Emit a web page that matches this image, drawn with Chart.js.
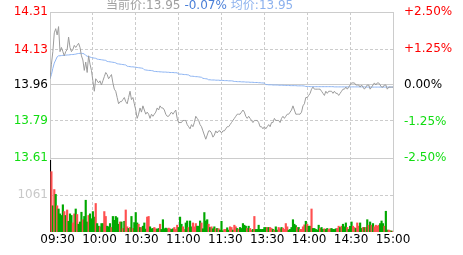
<!DOCTYPE html>
<html lang="zh">
<head>
<meta charset="UTF-8">
<title>分时走势</title>
<script src="https://cdn.jsdelivr.net/npm/chart.js"></script>
<style>
  body { margin: 0; background: #fff; }
  #wrap { position: relative; width: 463px; height: 255px; }
  #head {
    position: absolute; left: 106px; top: -1px;
    font: 12px "DejaVu Sans", "Noto Sans CJK SC", sans-serif;
    line-height: 13px; white-space: nowrap;
  }
  #head .cur { color: #a0a0a0; }
  #head .chg { color: #4a7fd8; margin-left: 4px; }
  #head .avg { color: #8db2ee; margin-left: 4px; }
</style>
</head>
<body>
<div id="wrap">
  <canvas id="chart" width="463" height="255"></canvas>
  <div id="head"><span class="cur" id="cur"></span><span class="chg" id="chg"></span><span class="avg" id="avg"></span></div>
</div>
<script>
// previous close and axis labels
const prevClose = 13.96;
const priceTicks = [14.31, 14.13, 13.96, 13.79, 13.61];
const pctTicks = [2.5, 1.25, 0, -1.25, -2.5];
const volTicks = [1061];
const timeLabels = ['09:30', '10:00', '10:30', '11:00', '11:30', '13:30', '14:00', '14:30', '15:00'];

// one value per minute, 09:30 .. 11:30 + 13:01 .. 15:00
const prices = [
  13.99, 14.06, 14.12, 14.21, 14.23, 14.20, 14.24, 14.12, 14.14, 14.12,
  14.10, 14.12, 14.13, 14.19, 14.14, 14.12, 14.13, 14.15, 14.14, 14.15,
  14.16, 14.14, 14.10, 14.08, 14.03, 14.07, 14.02, 14.10, 14.06, 14.03,
  13.98, 13.93, 13.99, 13.98, 13.97, 13.98, 13.96, 13.98, 14.00, 14.02,
  14.01, 13.99, 14.00, 14.01, 13.97, 13.94, 13.93, 13.90, 13.87, 13.88,
  13.88, 13.89, 13.90, 13.88, 13.87, 13.90, 13.93, 13.89, 13.90, 13.87,
  13.84, 13.80, 13.82, 13.85, 13.83, 13.86, 13.84, 13.82, 13.83, 13.82,
  13.80, 13.82, 13.81, 13.82, 13.83, 13.85, 13.84, 13.86, 13.85, 13.85,
  13.84, 13.82, 13.81, 13.81, 13.82, 13.83, 13.82, 13.83, 13.84, 13.80,
  13.78, 13.78, 13.78, 13.79, 13.79, 13.79, 13.77, 13.76, 13.75, 13.77,
  13.76, 13.78, 13.81, 13.80, 13.79, 13.77, 13.76, 13.74, 13.72, 13.70,
  13.72, 13.74, 13.74, 13.73, 13.71, 13.72, 13.74, 13.73, 13.74, 13.74,
  13.73, 13.74, 13.74, 13.75, 13.76, 13.76, 13.77, 13.78, 13.79, 13.80,
  13.81, 13.82, 13.82, 13.82, 13.83, 13.84, 13.83, 13.81, 13.80, 13.81,
  13.80, 13.79, 13.78, 13.79, 13.79, 13.79, 13.78, 13.76, 13.76, 13.75,
  13.76, 13.75, 13.76, 13.77, 13.76, 13.78, 13.78, 13.80, 13.79, 13.79,
  13.79, 13.78, 13.80, 13.81, 13.80, 13.81, 13.82, 13.82, 13.83, 13.84,
  13.86, 13.84, 13.82, 13.82, 13.82, 13.82, 13.83, 13.86, 13.87, 13.90,
  13.90, 13.91, 13.92, 13.94, 13.95, 13.94, 13.94, 13.94, 13.94, 13.94,
  13.93, 13.92, 13.91, 13.93, 13.92, 13.93, 13.93, 13.93, 13.92, 13.93,
  13.92, 13.92, 13.91, 13.92, 13.93, 13.94, 13.94, 13.95, 13.94, 13.95,
  13.96, 13.97, 13.97, 13.97, 13.96, 13.96, 13.96, 13.95, 13.96, 13.95,
  13.94, 13.95, 13.96, 13.96, 13.94, 13.95, 13.96, 13.97, 13.96, 13.97,
  13.97, 13.96, 13.95, 13.95, 13.96, 13.96, 13.94, 13.95, 13.95, 13.95, 13.95
];

const avgPrices = [
  13.990, 14.010, 14.040, 14.065, 14.080, 14.095, 14.100,
  14.100, 14.101, 14.102, 14.102, 14.103, 14.104, 14.104, 14.105, 14.106, 14.106, 14.107, 14.108,
  14.110, 14.111, 14.112, 14.112, 14.111, 14.109,
  14.102, 14.098, 14.096, 14.094, 14.092, 14.090, 14.089, 14.088,
  14.084, 14.083, 14.082, 14.081, 14.080, 14.079, 14.078,
  14.073, 14.072, 14.071, 14.070, 14.069, 14.068, 14.066,
  14.062, 14.061, 14.060, 14.059, 14.058, 14.057, 14.056,
  14.050, 14.049, 14.048, 14.047, 14.047, 14.046,
  14.045, 14.044, 14.043, 14.042, 14.041, 14.040,
  14.033, 14.032, 14.031, 14.030, 14.030, 14.029, 14.028,
  14.025, 14.025, 14.024, 14.024, 14.023, 14.023, 14.022, 14.022, 14.022, 14.021, 14.021, 14.020, 14.020, 14.020, 14.019, 14.019, 14.018,
  14.013, 14.012, 14.012, 14.011, 14.010, 14.010, 14.009, 14.008,
  14.003, 14.002, 14.002, 14.001, 14.000, 14.000, 13.999, 13.998, 13.997,
  13.992, 13.991, 13.990, 13.989,
  13.985, 13.985, 13.984, 13.984, 13.984, 13.983, 13.983, 13.983, 13.982, 13.982, 13.982, 13.981, 13.981, 13.981, 13.980, 13.980, 13.980, 13.979,
  13.977, 13.977, 13.976, 13.976, 13.976, 13.975, 13.975, 13.975, 13.974, 13.974, 13.974, 13.973, 13.973, 13.973, 13.972, 13.972, 13.972, 13.971, 13.971, 13.970, 13.970, 13.969,
  13.962, 13.962, 13.961, 13.961, 13.961, 13.960, 13.960, 13.960, 13.960, 13.959, 13.959, 13.959, 13.959, 13.958, 13.958, 13.958, 13.958, 13.957, 13.957, 13.957, 13.957, 13.957, 13.956, 13.956, 13.956, 13.956, 13.956, 13.955,
  13.953, 13.953, 13.953, 13.952, 13.952, 13.952, 13.952, 13.952, 13.952, 13.952,
  13.952, 13.952, 13.952, 13.952, 13.952, 13.952, 13.952, 13.952, 13.952, 13.952,
  13.951, 13.951, 13.951, 13.951, 13.951, 13.951, 13.951, 13.951, 13.951, 13.951,
  13.951, 13.951, 13.951, 13.951, 13.951, 13.951, 13.951, 13.951, 13.951, 13.951,
  13.951, 13.951, 13.950, 13.950, 13.950, 13.950, 13.950, 13.950, 13.950, 13.950,
  13.950, 13.950, 13.950, 13.950, 13.950, 13.950, 13.950, 13.950, 13.950, 13.950,
  13.950, 13.950
];

const volumes = [
  2055, 1730, 752, 1218, 1078, 752, 660, 520, 474, 781,
  586, 474, 632, 307, 520, 474, 260, 520, 660, 502,
  223, 288, 567, 353, 446, 911, 288, 474, 520, 381,
  586, 428, 818, 242, 167, 149, 242, 242, 586, 446,
  167, 149, 242, 130, 446, 335, 446, 409, 223, 288,
  288, 102, 307, 632, 149, 102, 130, 446, 102, 270,
  558, 260, 223, 130, 130, 167, 260, 84, 428, 446,
  149, 93, 102, 130, 93, 84, 102, 223, 74, 353,
  93, 112, 93, 112, 93, 74, 93, 130, 74, 195,
  130, 428, 223, 149, 74, 260, 316, 130, 316, 149,
  260, 149, 242, 167, 167, 316, 260, 93, 558, 316,
  353, 223, 130, 149, 93, 149, 93, 102, 93, 56,
  307,
  37, 74, 74, 121, 56, 149, 130, 56, 195, 149,
  102, 74, 130, 102, 242, 195, 167, 102, 167, 102,
  56, 74, 446, 74, 74, 195, 74, 74, 74, 130,
  130, 130, 130, 130, 102, 74, 56, 149, 56, 130,
  93, 130, 112, 74, 242, 149, 56, 74, 130, 353,
  223, 186, 130, 130, 74, 74, 149, 205, 307, 223,
  167, 167, 660, 102, 102, 74, 56, 195, 102, 130,
  74, 93, 74, 102, 74, 93, 102, 74, 74, 93,
  102, 167, 130, 167, 223, 149, 260, 130, 74, 167,
  288, 167, 130, 102, 260, 167, 260, 102, 130, 130,
  130, 353, 195, 288, 195, 242, 149, 195, 167, 195,
  242, 316, 242, 167, 595, 56, 56, 37, 30, 20
];

// 1 = price up that minute, -1 = down, 0 = opening
const moves = [
  0, 1, -1, 1, -1, 1, -1, -1, -1, -1,
  1, -1, 1, -1, -1, -1, 1, 1, -1, 1,
  -1, -1, -1, 1, -1, -1, -1, 1, -1, -1,
  -1, -1, 1, -1, -1, 1, -1, -1, 1, 1,
  -1, -1, -1, 1, -1, -1, -1, -1, -1, 1,
  -1, 1, -1, 1, 1, -1, 1, -1, 1, -1,
  -1, -1, 1, -1, 1, -1, -1, -1, 1, 1,
  -1, -1, -1, 1, 1, -1, -1, 1, -1, -1,
  -1, -1, -1, 1, 1, -1, -1, 1, 1, 1,
  -1, -1, -1, 1, 1, -1, -1, 1, -1, -1,
  1, 1, 1, -1, -1, -1, 1, -1, -1, -1,
  -1, 1, -1, 1, -1, -1, 1, -1, 1, -1,
  -1,
  -1, 1, 1, -1, -1, 1, 1, -1, 1, 1,
  -1, 1, -1, -1, -1, -1, -1, 1, -1, 1,
  1, -1, 1, -1, -1, -1, -1, -1, -1, -1,
  -1, 1, -1, 1, 1, -1, 1, -1, -1, 1,
  1, -1, 1, 1, 1, 1, -1, -1, -1, -1,
  -1, -1, 1, -1, 1, 1, 1, 1, -1, 1,
  -1, -1, 1, -1, -1, -1, -1, -1, 1, -1,
  -1, 1, -1, -1, 1, 1, -1, -1, -1, -1,
  1, 1, -1, 1, -1, -1, -1, 1, -1, -1,
  -1, 1, 1, -1, 1, 1, -1, -1, 1, -1,
  1, -1, 1, -1, 1, -1, 1, 1, 1, 1,
  -1, -1, -1, 1, -1, -1, 1, 1, -1, 1
];

const UP = '#ff5050';
const DOWN = '#00a800';
const GRID = '#cccccc';
const RED_TXT = '#ff0000';
const GREEN_TXT = '#11dd11';
const font = { family: 'DejaVu Sans', size: 12 };
const lastMin = 240;
const volMax = volTicks[0] * 2;

// header line
const last = prices[prices.length - 1];
document.getElementById('cur').textContent = '当前价:' + last.toFixed(2);
document.getElementById('chg').textContent = ((last - prevClose) / prevClose * 100).toFixed(2) + '%';
document.getElementById('avg').textContent = '均价:' + avgPrices[avgPrices.length - 1].toFixed(2);

const fixTicks = values => scale => { scale.ticks = values.map(v => ({ value: v })); };
const fixWidth = w => scale => { scale.width = w; };
const fixHeight = h => scale => { scale.height = h; };
function signColor(ctx, mid) {
  const v = ctx.tick ? ctx.tick.value : mid;
  if (v > mid) return RED_TXT;
  if (v < mid) return GREEN_TXT;
  return '#000';
}
// dashed grid line except at the given values
function gridDash(solidValues) {
  return ctx => (ctx.tick && !solidValues.includes(ctx.tick.value)) ? [3, 2] : [];
}
const points = arr => arr.map((v, i) => ({ x: i, y: v }));

new Chart(document.getElementById('chart'), {
  type: 'line',
  data: {
    datasets: [
      {
        label: '价格', data: points(prices), xAxisID: 'x', yAxisID: 'y',
        borderColor: '#9c9c9c', borderWidth: 1, pointRadius: 0, tension: 0
      },
      {
        label: '均价', data: points(avgPrices), xAxisID: 'x', yAxisID: 'y',
        borderColor: '#8db4f2', borderWidth: 1, pointRadius: 0, tension: 0
      },
      {
        type: 'bar', label: '成交量', data: points(volumes), xAxisID: 'x', yAxisID: 'v',
        backgroundColor: moves.map(m => m > 0 ? UP : (m < 0 ? DOWN : '#000')),
        barThickness: 1.5
      }
    ]
  },
  options: {
    responsive: false,
    animation: false,
    devicePixelRatio: 1,
    layout: { padding: { top: 12 } },
    plugins: { legend: { display: false }, tooltip: { enabled: false } },
    scales: {
      // minute axis: data and the half-hour grid
      x: {
        type: 'linear', position: 'bottom', min: 0, max: lastMin, offset: false,
        afterBuildTicks: fixTicks(timeLabels.map((_, i) => i * 30)),
        ticks: { display: false },
        grid: { display: true, drawOnChartArea: true, color: GRID, lineWidth: 1, drawTicks: false, offset: false },
        border: { display: false, dash: gridDash([0, lastMin]) },
        afterFit: fixHeight(0)
      },
      // time labels
      xl: {
        type: 'linear', position: 'bottom', min: -0.18, max: timeLabels.length - 1,
        afterBuildTicks: fixTicks(timeLabels.map((_, i) => i)),
        ticks: {
          font, color: '#000', padding: 1, maxRotation: 0, autoSkip: false,
          callback: (v, i) => timeLabels[i]
        },
        grid: { display: false, drawTicks: false },
        border: { display: false },
        afterFit: fixHeight(23)
      },
      y: {
        type: 'linear', position: 'left', stack: 'L', stackWeight: 146, weight: 1,
        min: priceTicks[priceTicks.length - 1], max: priceTicks[0],
        afterBuildTicks: fixTicks(priceTicks),
        ticks: { font, padding: 2, color: ctx => signColor(ctx, prevClose), callback: v => v.toFixed(2) },
        grid: { color: GRID, drawTicks: false },
        border: { display: false, dash: gridDash([priceTicks[0], prevClose, priceTicks[priceTicks.length - 1]]) },
        afterFit: fixWidth(50)
      },
      v: {
        type: 'linear', position: 'left', stack: 'L', stackWeight: 74, weight: 0,
        min: 0, max: volMax,
        afterBuildTicks: fixTicks(volTicks),
        ticks: { font, padding: 2, color: '#c8c8c8', callback: v => String(v) },
        grid: { color: GRID, drawTicks: false },
        border: { display: false, dash: [3, 2] },
        afterFit: fixWidth(50)
      },
      p: {
        type: 'linear', position: 'right', stack: 'R', stackWeight: 146, weight: 0,
        min: pctTicks[pctTicks.length - 1], max: pctTicks[0],
        afterBuildTicks: fixTicks(pctTicks),
        ticks: {
          font, padding: 3, color: ctx => signColor(ctx, 0),
          callback: v => (v > 0 ? '+' : '') + v.toFixed(2) + '%'
        },
        grid: { display: false },
        border: { display: false },
        afterFit: fixWidth(70)
      },
      v2: {
        type: 'linear', position: 'right', stack: 'R', stackWeight: 74, weight: 1,
        min: 0, max: volMax,
        ticks: { display: false },
        grid: { display: false },
        border: { display: false },
        afterFit: fixWidth(70)
      }
    }
  }
});
</script>
</body>
</html>
